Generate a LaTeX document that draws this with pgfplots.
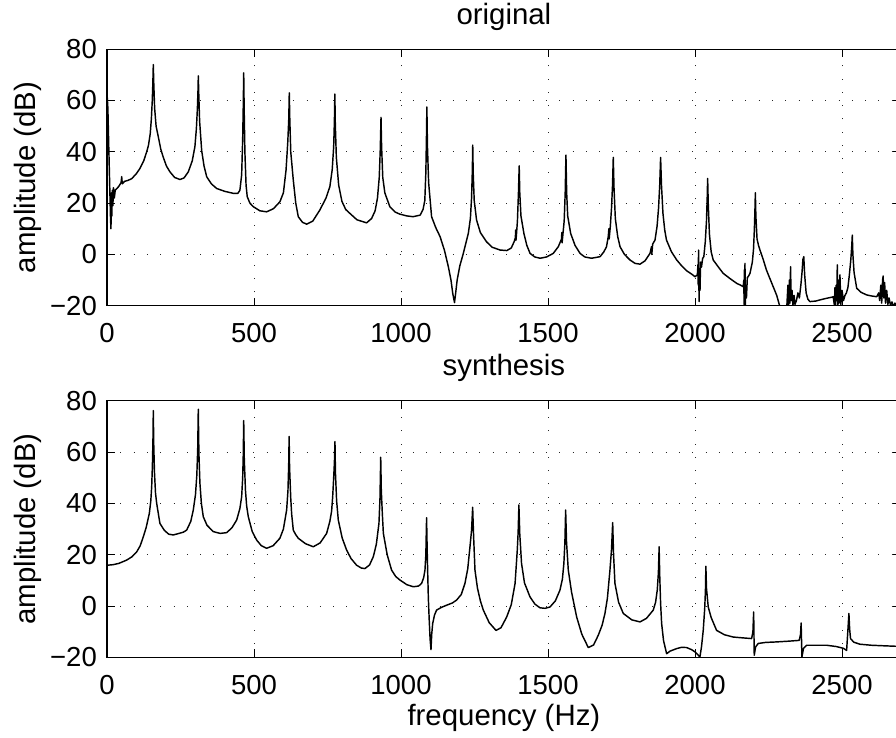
\documentclass[border=0pt]{standalone}
\usepackage{fontspec}
\setmainfont{Liberation Sans}
\usepackage{pgfplots}
\pgfplotsset{compat=1.18}
\pgfplotstableread{
f a
0 63
3 57
6 42
9 28
12 14
13.5 10
15 24
16.5 15
18 25
20 19
22 26
25 22
28 25
32 25.5
40 26.5
48 28
50 30.3
52 27.5
60 28.5
70 28.8
84 29.5
100 31.5
112 33.5
125 36.5
135 40
141 42.5
147 47
151 53
154 60
156 67
157.5 74
159 67
162 57
167 50
174.6 45.8
183 41
191 38
202 34.5
214 32.2
230 30
248 29.2
262 29.8
276.6 32.2
290 36.5
299 42
304 49
307.5 57
309.5 64
310.6 69.6
312 63
315 52
322 40.5
330 34.5
339 30.3
355 27.5
373 25.7
400 24.6
429.6 23.8
445 23.8
452 25
458 31
461.5 45
463.5 58
465 70.8
466.5 57
469 40
473 27
477 22.5
486 20
497.6 18.6
520 17
543 16.6
566 17.8
588 20.5
600 24
609 32.9
615 44
618.3 53
620 63
621.7 53
625 40
633.6 29
642 20
650.6 14.7
665 12.5
679 11.8
700 13
724 17.3
745 22
758 26.4
766 33
771 42
773.5 52
775 62.5
776.5 51
780 38
788 27
799 20.7
812 17.5
826 16
850 13.5
883 12.3
900 14
912 17
920 22
926 30
929.5 41
932 53.4
934 42
938 30
945 24
962 18.6
980 16.5
996 15.7
1020 15
1041 14.7
1065 15.3
1075 17.5
1081 21
1084.5 32
1086.5 45
1088 57.5
1090 42
1094 28
1104 14.7
1118 10.5
1133 6.9
1148 1.5
1161 -4.8
1170 -10
1176 -15.2
1182 -18.8
1186 -15
1191 -10
1200 -4.5
1212 0.4
1222 5
1229 8.2
1236 14
1240 22
1242.5 32
1244 42.6
1245.5 32
1249 21
1257 13.4
1270 8.5
1291 4.9
1310 2.8
1337 1.7
1360 1.5
1375 2.5
1385 5
1389 6.5
1390 9.5
1391 5.5
1393 8.2
1396 13
1399.5 24
1402 34.5
1404 24
1408 15
1418 8.2
1428 3.5
1439 0.4
1455 -1
1473 -1.5
1495 -1
1518 0.4
1535 3
1546 6
1547 8.5
1548 4.5
1550 7
1555 13
1558.5 24
1561 38.7
1563.5 24
1567 15
1577 8.2
1592 3.5
1609 0.4
1625 -1
1648 -1.5
1677 -0.9
1690 1
1699 3
1705 7
1707 10
1708 6
1712 11
1716 18
1719.5 27
1722 37.8
1724.5 26
1729 14
1737 7
1745 3
1760 0
1779 -2.2
1796 -3.5
1813 -3.8
1830 -2.5
1847 0.4
1852 3
1853 0
1856 4
1864 5.6
1871 11
1876 18
1880 27
1883 37.8
1886 27
1891 16
1897 9.5
1903 5.6
1920 1
1938 -2.2
1955 -4.5
1972 -6.4
1990 -7.8
2000 -8.7
2008 -8
2010 -4
2011 -12
2012 1.7
2013 -10
2014 -18.4
2015 -6
2017 -14
2019 -3
2022 -5
2026 -1.5
2030 -0.9
2035 5
2039 13
2041.5 22
2043 29.6
2045 20
2049 8
2055 1
2062 -2.2
2080 -5
2096 -7.4
2120 -9.5
2142 -11.3
2155 -12
2164 -12.6
2166 -10
2167 -19.5
2168 -6
2169 -14
2170 -3.5
2171 -20.5
2173 -12
2175 -17
2178 -9
2182 -8.5
2187 -7.4
2195 -3
2199 2
2202 10
2204 18
2205.3 24
2207 15
2211 6
2216 3.5
2221 1.7
2232 -2
2243 -6.1
2255 -9.5
2266 -12.6
2278 -16
2287 -19.7
2290 -21
2312 -21
2316 -12
2318 -20.5
2321 -10
2323 -19
2325 -4.8
2327 -18
2330 -14
2333 -20
2337 -16
2340 -19.5
2345 -18
2350 -15
2355 -17
2360 -12
2364 -7
2367 -2
2370 -0.9
2373 -8
2378 -15
2384 -17.5
2391 -18.4
2410 -18.2
2430 -17.6
2448 -17.1
2465 -16.7
2470 -16.5
2474 -19.8
2476 -13
2478 -20.5
2480 -12
2482 -18
2484 -4.1
2486 -20
2488 -10
2490 -19
2493 -8
2496 -19.5
2500 -14
2505 -18
2510 -16
2515 -15
2520 -13
2525 -8
2530 -2
2533 3
2535 7.5
2537 0
2541 -7
2550 -13.2
2565 -14.8
2584 -15.8
2600 -16.2
2618 -16.5
2625 -15
2628 -18
2632 -12
2635 -19
2638 -10
2640 -8.4
2642 -17
2645 -11
2648 -19
2652 -14
2656 -19.5
2660 -17
2665 -20
2670 -18.5
2675 -20.5
2680 -19
2690 -20.5
2700 -19
}\original
\pgfplotstableread{
f a
0 15.9
20 16.1
40 16.6
67 17.9
85 19.2
101 21.1
113 23.5
123.5 27
133 30.5
144 36.1
149 41
152 46.5
154.5 55
156.5 66
157.5 76.2
159 63
161.5 52
165 44
169 40
180 32.2
195 29.5
210 28
225.5 27.7
245 28.3
260 28.8
271 29.6
285 33
293.5 37.4
301 43.5
305.5 51
308.5 61
310.5 76.7
312.5 60
316 48
321 40
327.5 34.8
340 31.5
361.5 29
385 28.3
407 28.6
425 30.5
441 33.5
452 38
458 42.6
461.5 50
463.5 59
465 72.3
467 57
471 45
475 39
480.6 34.8
494 29
509 25.7
525 23.5
543 22.5
565 23.5
588 26.4
600 30
611 37.4
615.5 45
618 55
619.5 66.1
621 54
625 42
628 36
633.6 29.6
641 28
650.6 26.4
675 24.3
701.6 23.1
725 24.6
747 28.3
758 33
764 37
767.6 42.6
771 50
773.5 56
775.4 64.1
777 52
781 41
786.7 33.5
800 26.5
815 21.8
830 18.5
849 15.9
865 14.8
877.5 14.6
893 16
905.7 19.2
916 24
925 32.2
928.5 42
931 58
933 45
936.5 36
940 28.3
953 20
968 14
982 11.5
996.5 10.1
1020 8.3
1042 7.5
1060 7.8
1070 8.8
1077 11
1081.5 14
1084.5 20
1087 34.4
1089 22
1090.6 14
1093 3
1096 -5.5
1099 -13
1102 -17
1104.5 -11
1107.8 -6.8
1114 -3.5
1121 -1.6
1138 -0.5
1155 0.3
1175 1.2
1189 2.3
1205 4.5
1217.5 8.8
1227 14.5
1234.6 23.1
1240 29.5
1243.7 38.5
1247 27
1251.6 14
1260 7
1270 2
1280 -1.6
1300 -6.5
1323 -9.5
1340 -8.5
1359.4 -4.3
1375 0.5
1388 8.8
1395.5 21.8
1398.5 29
1401 39.4
1404 28
1410 16.6
1420 9
1438.6 3.6
1455 0.8
1472.6 -0.7
1490 -0.9
1506.6 -0.4
1525 2
1540.7 6.2
1549 10.5
1554 16.6
1557.5 25
1560 37.4
1563 25
1569 14
1580 5.5
1597.5 -4.3
1615 -11
1637 -16.2
1655 -15.2
1671 -11.4
1684 -7.5
1693.7 -2.9
1702 3
1710.7 14
1716 22
1720 32.5
1723 20
1727.7 8.8
1740 1.5
1756 -2.9
1785 -5.4
1813 -6.2
1835 -4.8
1858 -1.6
1866 1.5
1871.6 6.2
1875.5 13
1878 23.1
1880 12
1883 1
1886.5 -6.8
1893 -13.5
1903.5 -18.6
1915 -17.6
1937.6 -16.6
1955 -16.1
1971.6 -16.2
1988 -17
2000 -17.9
2010 -19
2016.7 -19.9
2022 -16
2028 -9.5
2033 -1
2035.5 6
2037 15.5
2039 7
2045 -0.4
2055 -4.5
2073.4 -9.5
2100 -11.2
2130 -12.1
2160 -12.4
2192.6 -12.7
2197 -10
2199.5 -2.3
2201.5 -19.2
2206 -16
2215 -14.6
2240 -14.2
2277.6 -14
2320 -13.7
2354.5 -13.4
2359 -11
2361 -6.6
2363.7 -19.9
2369 -16.5
2379.7 -15.3
2415 -15.3
2447.7 -15.3
2480 -15.8
2505 -16.5
2515.7 -17.3
2520 -9.5
2523.5 -2.9
2526 -9
2529 -12.7
2540 -14.1
2561 -14.9
2600 -15.3
2640 -15.5
2683 -15.7
2700 -15.7
}\synthesis
\pgfplotsset{
  myaxis/.style={
    scale only axis, width=793.8pt, height=256.5pt,
    xmin=0, xmax=2700, ymin=-20, ymax=80,
    xtick={0,500,1000,1500,2000,2500},
    xticklabels={0,500,1000,1500,2000,2500},
    ytick={-20,0,20,40,60,80},
    yticklabels={−20,0,20,40,60,80},
    tick align=inside, major tick length=8pt,
    every tick/.style={black, line width=0.9pt},
    axis line style={black, line width=1.3pt},
    grid=major,
    grid style={black!85, line width=1pt, dash pattern=on 1pt off 12.3pt},
    xticklabel style={font=\fontsize{27.5}{30}\selectfont, anchor=base, inner sep=0pt, yshift=-37pt},
    yticklabel style={font=\fontsize{27.5}{30}\selectfont, anchor=east, inner sep=0pt, xshift=-10pt},
    every axis title/.style={at={(axis description cs:0.5,1)}, anchor=base, yshift=25pt, inner sep=0pt, font=\fontsize{29.4}{32}\selectfont},
    every axis y label/.style={at={(axis description cs:-0.0907,0.5)}, rotate=90, anchor=base, inner sep=0pt, font=\fontsize{29.4}{32}\selectfont},
    every axis x label/.style={at={(axis description cs:0.5,0)}, anchor=base, yshift=-68pt, inner sep=0pt, font=\fontsize{29.4}{32}\selectfont},
    ylabel={amplitude (dB)},
  }
}
\begin{document}
\begin{tikzpicture}[x=1pt,y=1pt]
\useasboundingbox (0,0) rectangle (896,737);
\clip (0,0) rectangle (896,737);
\begin{axis}[myaxis, at={(107pt,431.3pt)}, anchor=south west, title={original}]
\addplot[black, line width=1.45pt, line join=round] table[x=f,y=a] {\original};
\end{axis}
\begin{axis}[myaxis, at={(107pt,79.7pt)}, anchor=south west, title={synthesis}, xlabel={frequency (Hz)}]
\addplot[black, line width=1.45pt, line join=round] table[x=f,y=a] {\synthesis};
\end{axis}
\end{tikzpicture}
\end{document}
